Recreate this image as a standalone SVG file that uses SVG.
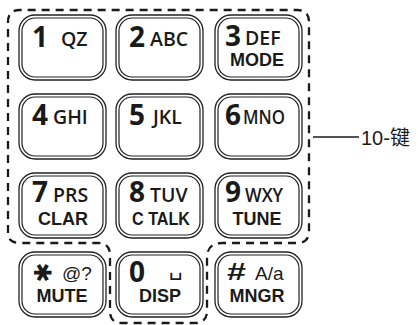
<svg xmlns="http://www.w3.org/2000/svg" width="418" height="325" viewBox="0 0 418 325">
<style>
.ko{fill:#fff;stroke:#222;stroke-width:1.3}
.ki{fill:none;stroke:#222;stroke-width:1.2}
.dig{font-family:"Open Sans","Liberation Sans",sans-serif;font-weight:700;font-size:28px;fill:#1a1a1a}
.let{font-family:"Open Sans","Liberation Sans",sans-serif;font-weight:600;font-size:19.5px;fill:#1a1a1a}
.lab{font-family:"Liberation Sans",Arial,sans-serif;font-weight:700;font-size:18px;fill:#1a1a1a;text-anchor:middle}
.sym{font-family:"Liberation Sans",Arial,sans-serif;font-size:19px;fill:#1a1a1a}
.dash{fill:none;stroke:#1a1a1a;stroke-width:2.3;stroke-dasharray:8 6}
</style>
<defs>
<g id="key">
<rect class="ko" x="0" y="0" width="87" height="65" rx="16"/>
<rect class="ki" x="3" y="3" width="81" height="59" rx="13"/>
</g>
</defs>
<rect width="418" height="325" fill="#fff"/>
<g id="connectors">
<path class="dash" d="M8,233 L8,22 Q8,10 20,10 L297,10 Q309,10 309,22 L309,231 Q309,243 297,243 L222,243 Q207,243 207,258 L207,311 Q207,323 195,323 L122,323 Q110,323 110,311 L110,255 Q110,243 98,243 L20,243 Q8,243 8,233"/>
<line x1="313" y1="137" x2="359" y2="137" stroke="#1a1a1a" stroke-width="1.3"/>
</g>
<g id="label-10key"><text x="361" y="145" font-family="Liberation Sans,Noto Sans CJK SC,sans-serif" font-size="20" fill="#1a1a1a">10-键</text></g>
<g id="key-1"><use href="#key" x="19" y="15"/><text class="dig" x="32" y="47">1</text><text class="let" x="61" y="46">QZ</text></g>
<g id="key-2"><use href="#key" x="116" y="15"/><text class="dig" x="129" y="47">2</text><text class="let" x="150" y="46">ABC</text></g>
<g id="key-3"><use href="#key" x="215" y="15"/><text class="dig" x="225" y="46">3</text><text class="let" x="245" y="45">DEF</text><text class="lab" x="257" y="66">MODE</text></g>
<g id="key-4"><use href="#key" x="19" y="94"/><text class="dig" x="32" y="125">4</text><text class="let" x="53" y="124">GHI</text></g>
<g id="key-5"><use href="#key" x="116" y="94"/><text class="dig" x="129" y="125">5</text><text class="let" x="153" y="124">JKL</text></g>
<g id="key-6"><use href="#key" x="215" y="94"/><text class="dig" x="225" y="125">6</text><text class="let" x="243" y="124" textLength="42" lengthAdjust="spacingAndGlyphs">MNO</text></g>
<g id="key-7"><use href="#key" x="19" y="173"/><text class="dig" x="32" y="202">7</text><text class="let" x="53" y="202">PRS</text><text class="lab" x="63" y="225">CLAR</text></g>
<g id="key-8"><use href="#key" x="116" y="173"/><text class="dig" x="129" y="202">8</text><text class="let" x="150" y="202">TUV</text><text class="lab" x="161" y="225" textLength="58" lengthAdjust="spacingAndGlyphs">C TALK</text></g>
<g id="key-9"><use href="#key" x="215" y="173"/><text class="dig" x="225" y="202">9</text><text class="let" x="245" y="202" textLength="38" lengthAdjust="spacingAndGlyphs">WXY</text><text class="lab" x="257" y="225">TUNE</text></g>
<g id="key-star"><use href="#key" x="19" y="252"/><text x="42" y="281" font-family="DejaVu Sans,sans-serif" font-size="24" fill="#1a1a1a" text-anchor="middle" transform="rotate(90 42 272.5)">✱</text><text class="sym" x="62" y="280">@?</text><text class="lab" x="62" y="302">MUTE</text></g>
<g id="key-0"><use href="#key" x="116" y="252"/><text class="dig" x="129" y="282">0</text><text x="176" y="275" font-family="DejaVu Sans,sans-serif" font-size="22" fill="#1a1a1a" text-anchor="middle">␣</text><text class="lab" x="160" y="302">DISP</text></g>
<g id="key-hash"><use href="#key" x="215" y="252"/><text x="227" y="280" font-family="Liberation Sans,Arial,sans-serif" font-weight="700" font-size="24" fill="#1a1a1a" textLength="19" lengthAdjust="spacingAndGlyphs">#</text><text class="sym" x="255" y="280">A/a</text><text class="lab" x="257" y="302">MNGR</text></g>
</svg>
